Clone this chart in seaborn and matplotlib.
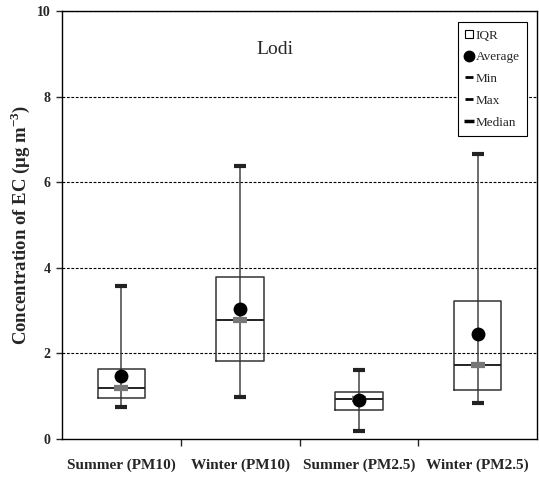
import numpy as np
import pandas as pd
import matplotlib
matplotlib.use("Agg")
import matplotlib.pyplot as plt
from matplotlib.lines import Line2D
import seaborn as sns

# Summary statistics of EC concentration (µg m-3) at Lodi
categories = ["Summer (PM10)", "Winter (PM10)", "Summer (PM2.5)", "Winter (PM2.5)"]
mins = [0.74, 0.99, 0.19, 0.83]
q1s = [0.95, 1.82, 0.67, 1.14]
medians = [1.19, 2.77, 0.93, 1.72]
q3s = [1.64, 3.79, 1.09, 3.23]
maxs = [3.57, 6.39, 1.61, 6.66]
means = [1.47, 3.04, 0.91, 2.45]

yticks = [0, 2, 4, 6, 8, 10]

sns.set_style("white")
plt.rcParams["font.family"] = ["Liberation Serif", "DejaVu Serif"]
plt.rcParams["mathtext.fontset"] = "custom"
plt.rcParams["mathtext.rm"] = "Liberation Serif"
plt.rcParams["mathtext.bf"] = "Liberation Serif:bold"

# Five summary values per group: with linear percentile interpolation the
# 25/50/75 % points fall exactly on Q1 / median / Q3, and whis=(0, 100) spans min..max.
rows = []
for c, a, b, m, d, e in zip(categories, mins, q1s, medians, q3s, maxs):
    for v in (a, b, m, d, e):
        rows.append({"group": c, "value": v})
df = pd.DataFrame(rows)
stats = pd.DataFrame({"group": categories, "min": mins, "median": medians,
                      "max": maxs, "mean": means})

fig = plt.figure(figsize=(5.39, 4.80), dpi=100)
ax = fig.add_axes([0.115, 0.0854, 0.8815, 0.8917])

edge = "#333333"
sns.boxplot(data=df, x="group", y="value", order=categories, whis=(0, 100),
            width=0.4, fill=False, showcaps=False, color=edge, linewidth=1.1,
            medianprops=dict(color="#222222", linewidth=1.4),
            whiskerprops=dict(visible=False), ax=ax, zorder=3)

pos = np.arange(len(categories))
# continuous min-max whisker through each box
ax.vlines(pos, mins, maxs, color="#444444", linewidth=1.1, zorder=2)
# min / max caps
ax.plot(pos, mins, linestyle="none", marker="_", markersize=8, mew=3, color="#222222", zorder=4)
ax.plot(pos, maxs, linestyle="none", marker="_", markersize=8, mew=3, color="#222222", zorder=4)
# median marker
ax.plot(pos, medians, linestyle="none", marker="_", markersize=10, mew=4.5, color="#777777", zorder=4)
# averages
sns.scatterplot(data=stats, x="group", y="mean", color="black", s=100, edgecolor="black",
                linewidth=0, ax=ax, zorder=5)

ax.set_xlim(-0.5, len(categories) - 0.5)
ax.set_ylim(0, 10)
ax.set_yticks(yticks)
ax.set_yticklabels([str(t) for t in yticks], fontsize=10, fontweight="bold")
ax.set_xticks(pos)
ax.set_xticklabels(categories, fontsize=11, fontweight="bold")
ax.tick_params(axis="x", length=0, pad=14)
ax.tick_params(axis="y", length=4, width=1, direction="out", left=True, pad=4)
# separators between categories on the x axis
ax.set_xticks(pos[:-1] + 0.5, minor=True)
ax.tick_params(axis="x", which="minor", length=5, width=1, direction="out", bottom=True)

for y in yticks[1:]:
    ax.axhline(y, color="black", linestyle=(0, (2.5, 1.5)), linewidth=0.8, zorder=1)

for s in ax.spines.values():
    s.set_color("black")
    s.set_linewidth(1.0)

ax.set_xlabel("")
ax.set_ylabel(r"Concentration of EC ($\mathbf{\mu}$g m$^{\mathbf{-3}}$)",
              fontsize=13.5, fontweight="bold")
ax.yaxis.set_label_coords(-0.063, 0.5)

ax.text(0.448, 0.911, "Lodi", transform=ax.transAxes, ha="center", va="center", fontsize=14)

handles = [
    Line2D([], [], linestyle="none", marker="s", markersize=6, markerfacecolor="white",
           markeredgecolor="black", markeredgewidth=0.8),
    Line2D([], [], linestyle="none", marker="o", markersize=7.5, color="black"),
    Line2D([], [], linestyle="none", marker="_", markersize=6, mew=2, color="black"),
    Line2D([], [], linestyle="none", marker="_", markersize=6, mew=2, color="black"),
    Line2D([], [], linestyle="none", marker="_", markersize=7, mew=2.5, color="black"),
]
leg = ax.legend(handles, ["IQR", "Average", "Min", "Max", "Median"], loc="upper right",
                bbox_to_anchor=(0.979, 0.974), borderaxespad=0, frameon=True, fancybox=False,
                framealpha=1, handlelength=0.6, handletextpad=0.2, labelspacing=0.72,
                borderpad=0.55, fontsize=9.5)
leg.get_frame().set_edgecolor("black")
leg.get_frame().set_linewidth(0.8)
leg.set_zorder(10)

fig.savefig("out.png", dpi=100)
